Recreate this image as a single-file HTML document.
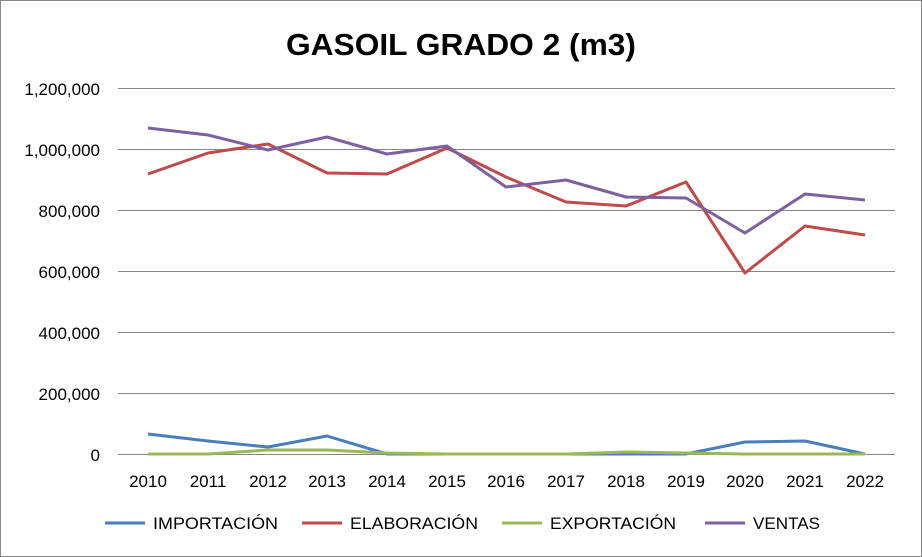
<!DOCTYPE html>
<html><head><meta charset="utf-8"><style>
body{margin:0;background:#fff;}
svg{display:block;font-family:"Liberation Sans",sans-serif;}
</style></head><body>
<svg width="922" height="557" viewBox="0 0 922 557">
<rect x="0.5" y="0.5" width="921" height="556" fill="#fff" stroke="#868686"/>
<text x="461" y="55" text-anchor="middle" font-size="31" font-weight="bold" fill="#000" textLength="350" lengthAdjust="spacingAndGlyphs">GASOIL GRADO 2 (m3)</text>
<g stroke="#868686" stroke-width="1">
<line x1="118" y1="88.5" x2="895" y2="88.5"/>
<line x1="118" y1="149.5" x2="895" y2="149.5"/>
<line x1="118" y1="210.5" x2="895" y2="210.5"/>
<line x1="118" y1="271.5" x2="895" y2="271.5"/>
<line x1="118" y1="332.5" x2="895" y2="332.5"/>
<line x1="118" y1="393.5" x2="895" y2="393.5"/>
<line x1="118" y1="454.5" x2="895" y2="454.5"/>
</g>
<g font-size="17" fill="#000" text-anchor="end">
<text x="100" y="95">1,200,000</text>
<text x="100" y="156">1,000,000</text>
<text x="100" y="217">800,000</text>
<text x="100" y="278">600,000</text>
<text x="100" y="339">400,000</text>
<text x="100" y="400">200,000</text>
<text x="100" y="461">0</text>
</g>
<g font-size="17" fill="#000" text-anchor="middle">
<text x="148" y="487">2010</text><text x="208" y="487">2011</text><text x="268" y="487">2012</text>
<text x="327" y="487">2013</text><text x="387" y="487">2014</text><text x="447" y="487">2015</text>
<text x="506" y="487">2016</text><text x="566" y="487">2017</text><text x="626" y="487">2018</text>
<text x="686" y="487">2019</text><text x="745" y="487">2020</text><text x="805" y="487">2021</text>
<text x="865" y="487">2022</text>
</g>
<g fill="none" stroke-width="3" stroke-linejoin="round">
<polyline stroke="#4a7ebb" points="148,434 208,441 268,447 327,436 387,454 447,454 506,454 566,454 626,454 686,454 745,442 805,441 865,454"/>
<polyline stroke="#98b954" points="148,454 208,454 268,450 327,450 387,453 447,454 506,454 566,454 626,452 686,453 745,454 805,454 865,454"/>
<polyline stroke="#be4b48" points="148,174 208,153 268,144 327,173 387,174 447,148 506,177 566,202 626,206 686,182 745,273 805,226 865,235"/>
<polyline stroke="#7d60a0" points="148,128 208,135 268,150 327,137 387,154 447,146 506,187 566,180 626,197 686,198 745,233 805,194 865,200"/>
</g>
<g font-size="17" fill="#000">
<line x1="105" y1="523" x2="145" y2="523" stroke="#4a7ebb" stroke-width="3"/><text x="153" y="529" textLength="125" lengthAdjust="spacingAndGlyphs">IMPORTACIÓN</text>
<line x1="302" y1="523" x2="342" y2="523" stroke="#be4b48" stroke-width="3"/><text x="350" y="529" textLength="128" lengthAdjust="spacingAndGlyphs">ELABORACIÓN</text>
<line x1="502" y1="523" x2="542" y2="523" stroke="#98b954" stroke-width="3"/><text x="550" y="529" textLength="126" lengthAdjust="spacingAndGlyphs">EXPORTACIÓN</text>
<line x1="705" y1="523" x2="745" y2="523" stroke="#7d60a0" stroke-width="3"/><text x="753" y="529" textLength="67" lengthAdjust="spacingAndGlyphs">VENTAS</text>
</g>
</svg>
</body></html>
